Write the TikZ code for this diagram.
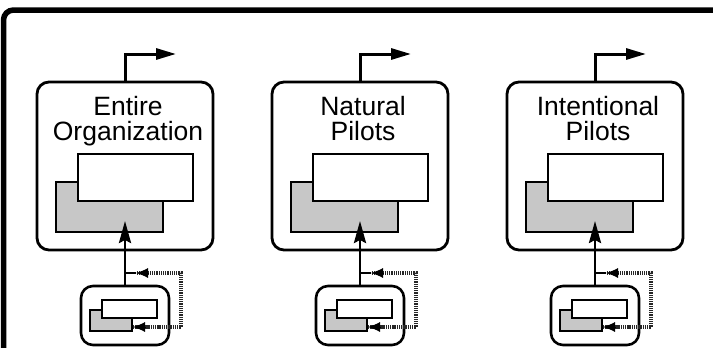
\documentclass[tikz,border=0pt]{standalone}
\usepackage{fontspec}
\setmainfont{Liberation Sans}
\usetikzlibrary{arrows.meta}
\begin{document}
\begin{tikzpicture}[x=1pt,y=-1pt,
  bigbox/.style={draw,line width=2.8pt,rounded corners=12pt,minimum width=176pt,minimum height=168pt,inner sep=0pt},
  grayrect/.style={draw,line width=2.4pt,fill=black!22,minimum width=107pt,minimum height=50pt,inner sep=0pt},
  whiterect/.style={draw,line width=2.4pt,fill=white,minimum width=115pt,minimum height=47pt,inner sep=0pt},
  smallbox/.style={draw,line width=2.6pt,rounded corners=12pt,minimum width=88pt,minimum height=59pt,inner sep=0pt},
  sgray/.style={draw,line width=2pt,fill=black!22,minimum width=42pt,minimum height=21pt,inner sep=0pt},
  swhite/.style={draw,line width=2pt,fill=white,minimum width=55pt,minimum height=18pt,inner sep=0pt},
  lbl/.style={font=\fontsize{26.5}{25}\selectfont,align=center,inner sep=0pt,anchor=base},
  outarrow/.style={line width=3pt,-{Triangle[length=20pt,width=11pt]}},
  uparrow/.style={line width=2.8pt,-{Stealth[length=22pt,width=12pt,inset=3pt]}},
  dotline/.style={line width=4.5pt,black!85,dash pattern=on 1.3pt off 0.9pt},
  dottip/.style={black,line width=1pt,-{Latex[length=12pt,width=10pt]}},
  frameline/.style={line width=5.5pt,rounded corners=10pt}]
\useasboundingbox (0,0) rectangle (713,348);
\draw[frameline] (3.5,400) -- (3.5,10) -- (760,10);
\foreach \dx/\la/\lb/\n in {0/Entire/Organization/a,235/Natural/Pilots/b,470/Intentional/Pilots/c}{
  \begin{scope}[xshift=\dx pt]
    \node[bigbox] (big\n) at (125,166) {};
    \node[grayrect] (gr\n) at (109.5,207) {};
    \node[whiterect] (wr\n) at (135.5,177.5) {};
    \node[lbl] (t\n) at (128,140) {\la\\\lb};
    \node[smallbox] (sb\n) at (125,315.5) {};
    \node[sgray] (sg\n) at (111,320.5) {};
    \node[swhite] (sw\n) at (129.5,309) {};
    \coordinate (out\n) at (176,54);
    \coordinate (tip\n) at (125,221);
    \coordinate (j\n) at (125,273);
    \coordinate (ja\n) at (136,273);
    \coordinate (fb\n) at (sg\n.east |- 0,327);
    \draw[outarrow] (big\n.north) |- (out\n);
    \draw[dotline] (fb\n) -- ++(12,0) -| (181,273) -- (ja\n);
    \draw[dottip] ([xshift=12pt]fb\n) -- (fb\n);
    \draw[dottip] ([xshift=12pt]ja\n) -- (ja\n);
    \draw[line width=2.8pt] (j\n) -- (ja\n);
    \draw[uparrow] (sb\n.north) -- (tip\n);
  \end{scope}
}
\end{tikzpicture}
\end{document}
